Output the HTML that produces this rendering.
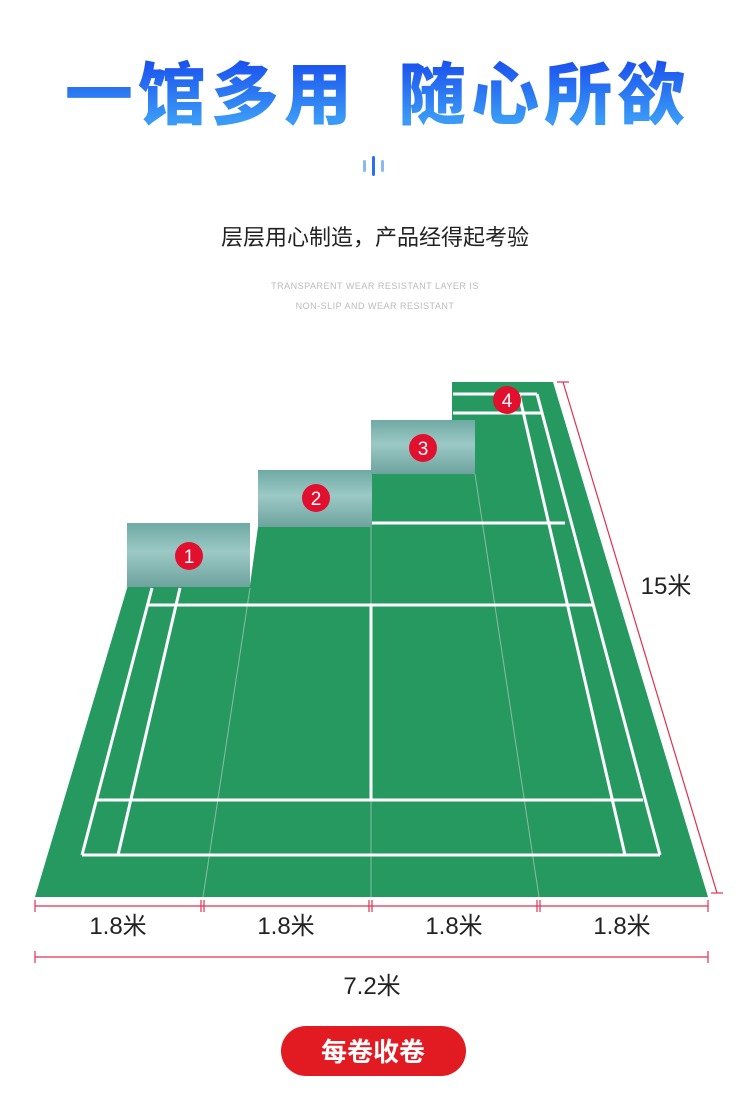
<!DOCTYPE html>
<html><head><meta charset="utf-8"><style>
body{margin:0;width:750px;height:1114px;background:#fff;position:relative;overflow:hidden;font-family:"Liberation Sans","Noto Sans CJK SC",sans-serif}
.t{position:absolute;left:0;width:750px;text-align:center}
h1{position:absolute;left:0;top:40px;width:750px;margin:0;text-align:center;font-size:68px;line-height:100px;font-weight:900;letter-spacing:5px;text-indent:5px;font-family:"Noto Sans CJK SC",sans-serif;background:linear-gradient(#1a50ee 20%,#3a9af6 80%);-webkit-background-clip:text;background-clip:text;color:transparent;white-space:pre}
</style></head><body>
<h1>一馆多用  随心所欲</h1>
<svg style="position:absolute;left:0;top:0" width="750" height="1114">
<rect x="363" y="160" width="3" height="12" rx="1.5" fill="#8bb8f5"/>
<rect x="372" y="156" width="3" height="20" rx="1.5" fill="#2a70ee"/>
<rect x="381" y="160" width="3" height="12" rx="1.5" fill="#8bb8f5"/>
<defs><linearGradient id="r" x1="0" y1="0" x2="0" y2="1"><stop offset="0" stop-color="#6fa9a3"/><stop offset="0.45" stop-color="#9cc9c6"/><stop offset="1" stop-color="#6ea39d"/></linearGradient></defs>
<polygon points="35,897 128,585 250,585 258,527 372,527 372,474 452,474 452,382 553,382 708,897" fill="#269961"/>
<g stroke="#b9c9bd" stroke-width="1" opacity="0.7">
<line x1="203" y1="897" x2="250" y2="588"/><line x1="371" y1="897" x2="371" y2="527"/><line x1="539" y1="897" x2="475" y2="474"/></g>
<g stroke="#fff" stroke-width="3" fill="none">
<line x1="82" y1="855" x2="660" y2="855"/>
<line x1="97" y1="800" x2="643" y2="800"/>
<line x1="148" y1="605" x2="593" y2="605"/>
<line x1="372" y1="523" x2="565" y2="523"/>
<line x1="453" y1="394" x2="537" y2="394"/>
<line x1="453" y1="413" x2="542" y2="413"/>
<line x1="371" y1="605" x2="371" y2="800"/>
<line x1="82" y1="855" x2="152" y2="588"/>
<line x1="118" y1="855" x2="180" y2="588"/>
<line x1="660" y1="855" x2="537" y2="394"/>
<line x1="625" y1="855" x2="519" y2="394"/>
</g>
<rect x="127" y="523" width="123" height="64" fill="url(#r)"/>
<rect x="258" y="470" width="114" height="57" fill="url(#r)"/>
<rect x="371" y="420" width="104" height="54" fill="url(#r)"/>
<g fill="#e2102f"><circle cx="189" cy="556" r="14"/><circle cx="316" cy="498" r="14"/><circle cx="423" cy="448" r="14"/><circle cx="507" cy="400" r="14"/></g>
<g fill="#fff" font-size="19" text-anchor="middle" font-family="Liberation Sans"><text x="189" y="563">1</text><text x="316" y="505">2</text><text x="423" y="455">3</text><text x="507" y="407">4</text></g>
<g stroke="#e0304f" stroke-width="1.2" fill="none">
<line x1="35" y1="906" x2="708" y2="906"/>
<line x1="35" y1="900" x2="35" y2="912"/><line x1="201" y1="900" x2="201" y2="912"/><line x1="204" y1="900" x2="204" y2="912"/>
<line x1="369" y1="900" x2="369" y2="912"/><line x1="372" y1="900" x2="372" y2="912"/>
<line x1="537" y1="900" x2="537" y2="912"/><line x1="540" y1="900" x2="540" y2="912"/><line x1="708" y1="900" x2="708" y2="912"/>
<line x1="35" y1="957" x2="708" y2="957"/><line x1="35" y1="951" x2="35" y2="963"/><line x1="708" y1="951" x2="708" y2="963"/>
<line x1="563" y1="382" x2="717" y2="893"/><line x1="557" y1="382" x2="569" y2="382"/><line x1="711" y1="893" x2="723" y2="893"/>
</g>
<g font-size="24" text-anchor="middle" fill="#222"><text x="118" y="934">1.8米</text><text x="286" y="934">1.8米</text><text x="454" y="934">1.8米</text><text x="622" y="934">1.8米</text><text x="372" y="994">7.2米</text><text x="666" y="594">15米</text></g>
<rect x="281" y="1026" width="185" height="50" rx="25" fill="#e21a22"/>
<text x="373" y="1061" fill="#fff" font-size="26" font-weight="bold" text-anchor="middle" font-family="Noto Sans CJK SC,sans-serif">每卷收卷</text>
</svg>
<div class="t" style="top:220px;font-size:22px;color:#222">层层用心制造，产品经得起考验</div>
<div class="t" style="top:281px;font-size:9px;color:#bbb;letter-spacing:0.5px">TRANSPARENT WEAR RESISTANT LAYER IS</div>
<div class="t" style="top:301px;font-size:9px;color:#bbb;letter-spacing:0.5px">NON-SLIP AND WEAR RESISTANT</div>
</body></html>
